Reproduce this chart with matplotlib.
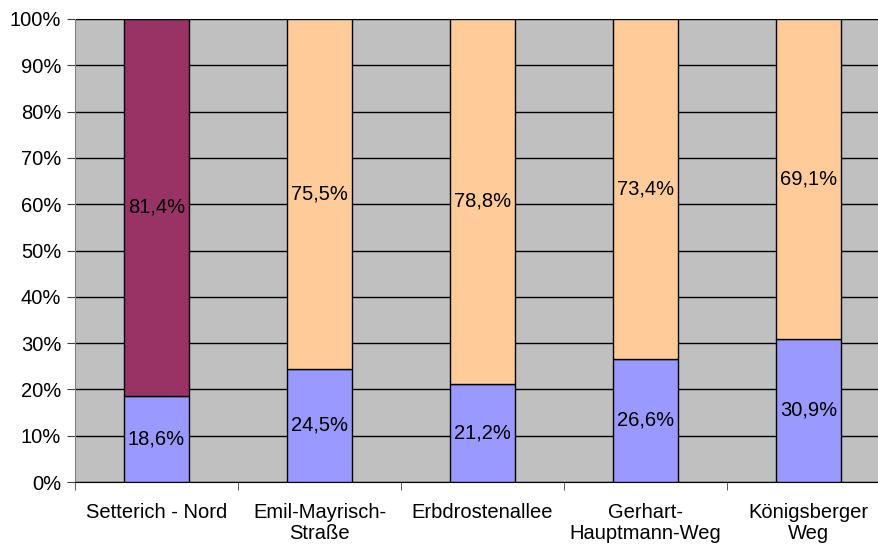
import numpy as np
import matplotlib
matplotlib.use("Agg")
import matplotlib.pyplot as plt

plt.rcParams['font.family'] = ['Liberation Sans', 'DejaVu Sans']

categories = ["Setterich - Nord", "Emil-Mayrisch-\nStraße", "Erbdrostenallee",
              "Gerhart-\nHauptmann-Weg", "Königsberger\nWeg"]
lower = [18.6, 24.5, 21.2, 26.6, 30.9]
upper = [81.4, 75.5, 78.8, 73.4, 69.1]
upper_colors = ["#993366", "#FFCC99", "#FFCC99", "#FFCC99", "#FFCC99"]

fs = 14.5

fig = plt.figure(figsize=(8.79, 5.47), dpi=100)
ax = fig.add_axes([75/879, 1-482/547, 815/879, 463/547])
ax.set_facecolor("#C0C0C0")

x = np.arange(len(categories))
ax.bar(x, lower, width=0.4, color="#9999FF", edgecolor="black", linewidth=1, zorder=3)
ax.bar(x, upper, width=0.4, bottom=lower, color=upper_colors, edgecolor="black", linewidth=1, zorder=3)

for i in range(len(categories)):
    ax.text(x[i], lower[i] / 2, ("%.1f%%" % lower[i]).replace(".", ","),
            ha="center", va="center", fontsize=fs, zorder=4)
    ax.text(x[i], lower[i] + upper[i] / 2, ("%.1f%%" % upper[i]).replace(".", ","),
            ha="center", va="center", fontsize=fs, zorder=4)

ax.set_xlim(-0.5, len(categories) - 0.5)
ax.set_ylim(0, 100)
ax.set_yticks(np.arange(0, 101, 10))
ax.set_yticklabels(["%d%%" % v for v in range(0, 101, 10)], fontsize=fs)
ax.yaxis.grid(True, color="black", linewidth=1, zorder=1)
ax.set_axisbelow(True)

ax.set_xticks(x)
ax.set_xticklabels(categories, fontsize=fs, linespacing=1.15)
ax.tick_params(axis="x", which="major", length=0, pad=15)
ax.set_xticks(np.arange(-0.5, len(categories), 1), minor=True)
ax.tick_params(axis="x", which="minor", length=6, color="#404040")
ax.tick_params(axis="y", length=6, color="#404040", pad=4)

for s in ["top", "right"]:
    ax.spines[s].set_visible(False)
ax.spines["left"].set_color("#808080")
ax.spines["bottom"].set_color("black")

fig.savefig("out.png", dpi=100)
